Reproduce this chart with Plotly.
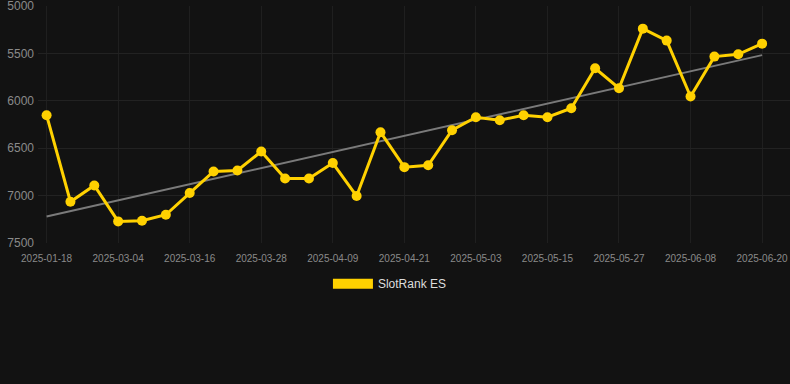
import numpy as np
import plotly.graph_objects as go

dates = ["2025-01-18", "2025-02-26", "2025-03-01", "2025-03-04", "2025-03-08", "2025-03-12",
         "2025-03-16", "2025-03-20", "2025-03-24", "2025-03-28", "2025-04-01", "2025-04-05",
         "2025-04-09", "2025-04-13", "2025-04-17", "2025-04-21", "2025-04-25", "2025-04-29",
         "2025-05-03", "2025-05-07", "2025-05-11", "2025-05-15", "2025-05-19", "2025-05-23",
         "2025-05-27", "2025-05-31", "2025-06-04", "2025-06-08", "2025-06-12", "2025-06-16",
         "2025-06-20"]
rank = [6152, 7065, 6893, 7272, 7265, 7202, 6973, 6745, 6735, 6535, 6819, 6819, 6657, 7005,
        6331, 6700, 6680, 6310, 6173, 6205, 6152, 6173, 6078, 5657, 5867, 5239, 5365, 5955,
        5534, 5509, 5397]
tick_dates = dates[::3]
y_ticks = [5000, 5500, 6000, 6500, 7000, 7500]
series_name = "SlotRank ES"

idx = np.arange(len(rank))
slope, intercept = np.polyfit(idx, rank, 1)
trend = slope * idx + intercept

YELLOW = "#FFD100"
BG = "#121212"

fig = go.Figure()
fig.add_trace(go.Scatter(
    x=dates, y=trend, mode="lines",
    line=dict(color="#7a7a7a", width=2),
    showlegend=False, hoverinfo="skip"))
fig.add_trace(go.Scatter(
    x=dates, y=rank, mode="lines+markers",
    line=dict(color=YELLOW, width=3),
    marker=dict(color=YELLOW, size=10),
    showlegend=False, name=series_name))
fig.add_trace(go.Scatter(
    x=[None], y=[None], mode="lines",
    line=dict(color=YELLOW, width=11),
    name=series_name, showlegend=True))

fig.update_layout(
    width=790, height=384,
    paper_bgcolor=BG, plot_bgcolor=BG,
    margin=dict(l=38, r=0, t=6, b=141),
    font=dict(family="Liberation Sans, Arial, sans-serif", color="#8a8a8a"),
    xaxis=dict(
        type="category", categoryorder="array", categoryarray=dates,
        tickmode="array", tickvals=tick_dates, ticktext=tick_dates,
        range=[-0.36, 31.17],
        showgrid=True, gridcolor="#1f1f1f", gridwidth=1,
        zeroline=False, showline=False, ticks="",
        tickfont=dict(size=10, color="#8a8a8a"),
        ticklabelstandoff=8, ticklabeloverflow="allow",
    ),
    yaxis=dict(
        range=[7500, 5000], tickvals=y_ticks,
        showgrid=True, gridcolor="#222222", gridwidth=1,
        zeroline=False, showline=False, ticks="",
        tickfont=dict(size=12, color="#8a8a8a"),
        ticklabelstandoff=3, ticklabeloverflow="allow",
    ),
    legend=dict(
        orientation="h", x=0.468, xanchor="center", y=-0.172, yanchor="middle",
        font=dict(size=12, color="#dddddd"), bgcolor="rgba(0,0,0,0)",
        itemwidth=40,
    ),
    showlegend=True,
)

fig.write_html("out.html", config={"displayModeBar": False},
               post_script="document.body.style.margin='0';document.body.style.background='#121212';")
